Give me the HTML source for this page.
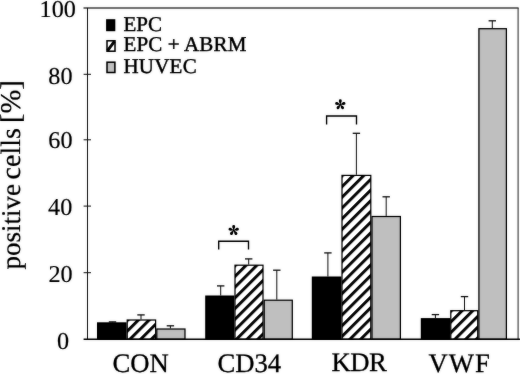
<!DOCTYPE html>
<html><head><meta charset="utf-8"><title>chart</title>
<style>
html,body{margin:0;padding:0;background:#fff;}
body{width:520px;height:374px;overflow:hidden;}
svg{display:block;}
text{font-family:"Liberation Serif",serif;fill:#000;stroke:#000;stroke-width:0.4px;text-rendering:geometricPrecision;}
</style></head><body>
<svg width="520" height="374" viewBox="0 0 520 374">
<defs>
<filter id="soft" x="0" y="0" width="520" height="374" filterUnits="userSpaceOnUse" color-interpolation-filters="sRGB"><feGaussianBlur stdDeviation="0.8" result="b"/><feComposite in="b" in2="SourceGraphic" operator="arithmetic" k1="0" k2="0.3" k3="0.75" k4="0"/></filter>
<pattern id="hatch" patternUnits="userSpaceOnUse" width="7.57" height="7.57" patternTransform="rotate(-45)">
<rect x="0" y="0" width="7.57" height="7.57" fill="#fff"/>
<rect x="0" y="0" width="7.57" height="3.1" fill="#000"/>
</pattern>
<pattern id="hatch1" patternUnits="userSpaceOnUse" width="7.566" height="7.566" patternTransform="rotate(-45) translate(0,7.339)"><rect width="7.566" height="7.566" fill="#fff"/><rect width="7.566" height="3.0" fill="#000"/></pattern>
<pattern id="hatch4" patternUnits="userSpaceOnUse" width="7.566" height="7.566" patternTransform="rotate(-45) translate(0,7.339)"><rect width="7.566" height="7.566" fill="#fff"/><rect width="7.566" height="3.0" fill="#000"/></pattern>
<pattern id="hatch7" patternUnits="userSpaceOnUse" width="7.566" height="7.566" patternTransform="rotate(-45) translate(0,7.339)"><rect width="7.566" height="7.566" fill="#fff"/><rect width="7.566" height="3.0" fill="#000"/></pattern>
<pattern id="hatch10" patternUnits="userSpaceOnUse" width="7.566" height="7.566" patternTransform="rotate(-45) translate(0,7.339)"><rect width="7.566" height="7.566" fill="#fff"/><rect width="7.566" height="3.0" fill="#000"/></pattern>
</defs>
<rect x="0" y="0" width="520" height="374" fill="#fff"/>
<g filter="url(#soft)">

<line x1="83.5" y1="7.9" x2="518.6" y2="7.9" stroke="#444" stroke-width="1.5"/>
<line x1="518.1" y1="7.9" x2="518.1" y2="339.2" stroke="#3a3a3a" stroke-width="1.1"/>
<line x1="87.5" y1="7.9" x2="87.5" y2="339.2" stroke="#111" stroke-width="1"/>
<line x1="83.6" y1="74.3" x2="91" y2="74.3" stroke="#111" stroke-width="1"/>
<line x1="83.6" y1="139.8" x2="91" y2="139.8" stroke="#111" stroke-width="1"/>
<line x1="83.6" y1="206.1" x2="91" y2="206.1" stroke="#111" stroke-width="1"/>
<line x1="83.6" y1="272.7" x2="91" y2="272.7" stroke="#111" stroke-width="1"/>
<line x1="112.5" y1="321.9" x2="112.5" y2="322.3" stroke="#111" stroke-width="1"/>
<line x1="108.8" y1="321.9" x2="116.2" y2="321.9" stroke="#111" stroke-width="1.3"/>
<rect x="97.0" y="322.3" width="29.60" height="16.90" fill="#000"/>
<line x1="141.0" y1="314.9" x2="141.0" y2="319.4" stroke="#111" stroke-width="1"/>
<line x1="137.3" y1="314.9" x2="144.7" y2="314.9" stroke="#111" stroke-width="1.3"/>
<g transform="translate(126.6,319.4)"><rect x="0.6" y="0.6" width="28.40" height="19.20" fill="url(#hatch1)" stroke="#000" stroke-width="1.2"/></g>
<line x1="170.4" y1="325.8" x2="170.4" y2="328.4" stroke="#111" stroke-width="1"/>
<line x1="166.70000000000002" y1="325.8" x2="174.1" y2="325.8" stroke="#111" stroke-width="1.3"/>
<rect x="156.79999999999998" y="329.0" width="28.20" height="10.20" fill="#b6b6b6" stroke="#000" stroke-width="1.2"/>
<line x1="220.7" y1="285.9" x2="220.7" y2="295.5" stroke="#111" stroke-width="1"/>
<line x1="217.0" y1="285.9" x2="224.39999999999998" y2="285.9" stroke="#111" stroke-width="1.3"/>
<rect x="205.2" y="295.5" width="29.20" height="43.70" fill="#000"/>
<line x1="248.7" y1="258.9" x2="248.7" y2="264.6" stroke="#111" stroke-width="1"/>
<line x1="245.0" y1="258.9" x2="252.39999999999998" y2="258.9" stroke="#111" stroke-width="1.3"/>
<g transform="translate(234.4,264.6)"><rect x="0.6" y="0.6" width="28.00" height="74.00" fill="url(#hatch4)" stroke="#000" stroke-width="1.2"/></g>
<line x1="276.8" y1="270.2" x2="276.8" y2="299.6" stroke="#111" stroke-width="1"/>
<line x1="273.1" y1="270.2" x2="280.5" y2="270.2" stroke="#111" stroke-width="1.3"/>
<rect x="264.20000000000005" y="300.20000000000005" width="28.10" height="39.00" fill="#b6b6b6" stroke="#000" stroke-width="1.2"/>
<line x1="327.9" y1="252.9" x2="327.9" y2="276.5" stroke="#111" stroke-width="1"/>
<line x1="324.2" y1="252.9" x2="331.59999999999997" y2="252.9" stroke="#111" stroke-width="1.3"/>
<rect x="311.8" y="276.5" width="29.60" height="62.70" fill="#000"/>
<line x1="356.4" y1="133.3" x2="356.4" y2="174.8" stroke="#111" stroke-width="1"/>
<line x1="352.7" y1="133.3" x2="360.09999999999997" y2="133.3" stroke="#111" stroke-width="1.3"/>
<g transform="translate(341.4,174.8)"><rect x="0.6" y="0.6" width="28.80" height="163.80" fill="url(#hatch7)" stroke="#000" stroke-width="1.2"/></g>
<line x1="386.2" y1="196.8" x2="386.2" y2="215.9" stroke="#111" stroke-width="1"/>
<line x1="382.5" y1="196.8" x2="389.9" y2="196.8" stroke="#111" stroke-width="1.3"/>
<rect x="372.0" y="216.5" width="28.40" height="122.70" fill="#b6b6b6" stroke="#000" stroke-width="1.2"/>
<line x1="435.4" y1="314.6" x2="435.4" y2="318.1" stroke="#111" stroke-width="1"/>
<line x1="431.7" y1="314.6" x2="439.09999999999997" y2="314.6" stroke="#111" stroke-width="1.3"/>
<rect x="420.8" y="318.1" width="29.40" height="21.10" fill="#000"/>
<line x1="464.5" y1="296.6" x2="464.5" y2="310.1" stroke="#111" stroke-width="1"/>
<line x1="460.8" y1="296.6" x2="468.2" y2="296.6" stroke="#111" stroke-width="1.3"/>
<g transform="translate(450.2,310.1)"><rect x="0.6" y="0.6" width="26.90" height="28.50" fill="url(#hatch10)" stroke="#000" stroke-width="1.2"/></g>
<line x1="492.3" y1="20.8" x2="492.3" y2="28.1" stroke="#111" stroke-width="1"/>
<line x1="488.6" y1="20.8" x2="496.0" y2="20.8" stroke="#111" stroke-width="1.3"/>
<rect x="478.90000000000003" y="28.700000000000003" width="27.50" height="310.50" fill="#b6b6b6" stroke="#000" stroke-width="1.2"/>
<line x1="83.6" y1="339.2" x2="520" y2="339.2" stroke="#000" stroke-width="1.4"/>
<polyline points="218.7,249.6 218.7,241.2 248.5,241.2 248.5,249.6" fill="none" stroke="#000" stroke-width="1.35"/>
<polyline points="326.6,124.6 326.6,116 356.5,116 356.5,124.6" fill="none" stroke="#000" stroke-width="1.35"/>
<g transform="translate(233.7,230.4)" fill="#000"><circle r="1.1"/><path d="M0,-0.2 C-0.6,-1.4 -1.55,-3.1499999999999995 -1.45,-3.8999999999999995 A1.45,1.45 0 1 1 1.45,-3.8999999999999995 C1.55,-3.1499999999999995 0.6,-1.4 0,-0.2 Z" transform="rotate(0)"/><path d="M0,-0.2 C-0.6,-1.4 -1.55,-3.1499999999999995 -1.45,-3.8999999999999995 A1.45,1.45 0 1 1 1.45,-3.8999999999999995 C1.55,-3.1499999999999995 0.6,-1.4 0,-0.2 Z" transform="rotate(72)"/><path d="M0,-0.2 C-0.6,-1.4 -1.55,-3.1499999999999995 -1.45,-3.8999999999999995 A1.45,1.45 0 1 1 1.45,-3.8999999999999995 C1.55,-3.1499999999999995 0.6,-1.4 0,-0.2 Z" transform="rotate(144)"/><path d="M0,-0.2 C-0.6,-1.4 -1.55,-3.1499999999999995 -1.45,-3.8999999999999995 A1.45,1.45 0 1 1 1.45,-3.8999999999999995 C1.55,-3.1499999999999995 0.6,-1.4 0,-0.2 Z" transform="rotate(216)"/><path d="M0,-0.2 C-0.6,-1.4 -1.55,-3.1499999999999995 -1.45,-3.8999999999999995 A1.45,1.45 0 1 1 1.45,-3.8999999999999995 C1.55,-3.1499999999999995 0.6,-1.4 0,-0.2 Z" transform="rotate(288)"/></g>
<g transform="translate(340.3,104.6)" fill="#000"><circle r="1.1"/><path d="M0,-0.2 C-0.6,-1.4 -1.55,-3.1499999999999995 -1.45,-3.8999999999999995 A1.45,1.45 0 1 1 1.45,-3.8999999999999995 C1.55,-3.1499999999999995 0.6,-1.4 0,-0.2 Z" transform="rotate(0)"/><path d="M0,-0.2 C-0.6,-1.4 -1.55,-3.1499999999999995 -1.45,-3.8999999999999995 A1.45,1.45 0 1 1 1.45,-3.8999999999999995 C1.55,-3.1499999999999995 0.6,-1.4 0,-0.2 Z" transform="rotate(72)"/><path d="M0,-0.2 C-0.6,-1.4 -1.55,-3.1499999999999995 -1.45,-3.8999999999999995 A1.45,1.45 0 1 1 1.45,-3.8999999999999995 C1.55,-3.1499999999999995 0.6,-1.4 0,-0.2 Z" transform="rotate(144)"/><path d="M0,-0.2 C-0.6,-1.4 -1.55,-3.1499999999999995 -1.45,-3.8999999999999995 A1.45,1.45 0 1 1 1.45,-3.8999999999999995 C1.55,-3.1499999999999995 0.6,-1.4 0,-0.2 Z" transform="rotate(216)"/><path d="M0,-0.2 C-0.6,-1.4 -1.55,-3.1499999999999995 -1.45,-3.8999999999999995 A1.45,1.45 0 1 1 1.45,-3.8999999999999995 C1.55,-3.1499999999999995 0.6,-1.4 0,-0.2 Z" transform="rotate(288)"/></g>
<rect x="106.1" y="19.2" width="9.2" height="12" fill="#000"/>
<g><rect x="107" y="40.8" width="8" height="10.4" fill="#fff" stroke="#000" stroke-width="1.5"/><line x1="107.6" y1="50.6" x2="114.4" y2="41.4" stroke="#000" stroke-width="2.9"/></g>
<rect x="107" y="62.2" width="7.9" height="10.3" fill="#b6b6b6" stroke="#000" stroke-width="1.5"/>
<text x="123.4" y="30.8" font-size="21">EPC</text>
<text x="123.4" y="51.4" textLength="123" lengthAdjust="spacing" font-size="21">EPC + ABRM</text>
<text x="123.4" y="72.6" textLength="73.3" lengthAdjust="spacing" font-size="21">HUVEC</text>
<text x="39.6" y="16.6" font-size="24.2" style="stroke-width:0.15px">100</text>
<text x="48.3" y="83.8" font-size="24.2" style="stroke-width:0.15px">80</text>
<text x="48.3" y="148.4" font-size="24.2" style="stroke-width:0.15px">60</text>
<text x="48.1" y="214.7" font-size="24.2" style="stroke-width:0.15px">40</text>
<text x="48.5" y="281.8" font-size="24.2" style="stroke-width:0.15px">20</text>
<text x="57.0" y="349.2" font-size="24.2" style="stroke-width:0.15px">0</text>
<text x="112.5" y="371.8" font-size="26.7" style="stroke-width:0.3px">CON</text>
<text x="217.4" y="371.8" font-size="26.7" style="stroke-width:0.3px">CD34</text>
<text x="331.4" y="371.1" font-size="26.7" letter-spacing="-0.5" style="stroke-width:0.3px">KDR</text>
<text x="428.5" y="371.7" font-size="26.7" letter-spacing="1.0" style="stroke-width:0.3px">VWF</text>
<text transform="translate(19.8,269.4) rotate(-90)" font-size="27" style="stroke-width:0.2px">positive</text>
<text transform="translate(19.9,179.4) rotate(-90)" font-size="28" style="stroke-width:0.2px">cells</text>
<text transform="translate(19.9,123.0) rotate(-90)" font-size="28.6" style="stroke-width:0.2px">[%]</text>
</g></svg></body></html>
